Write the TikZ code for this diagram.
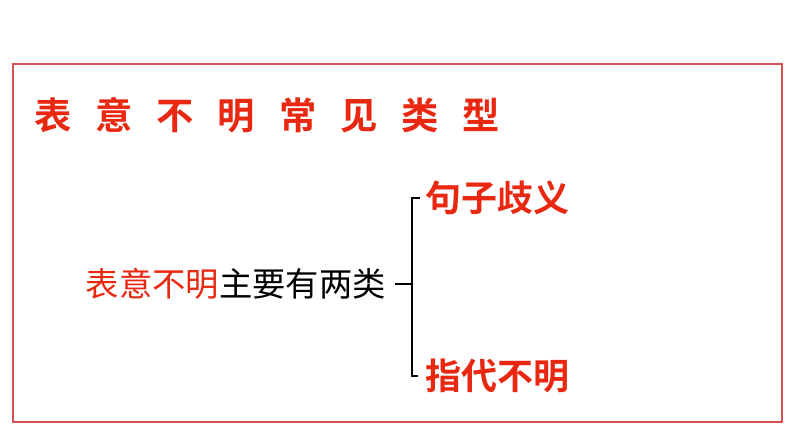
\documentclass[tikz,border=0pt]{standalone}
\usepackage{fontspec}
\newfontfamily\cjk[BoldFont={Noto Sans CJK SC Bold}]{Noto Sans CJK SC}
\definecolor{tred}{RGB}{232,40,16}
\definecolor{boxred}{RGB}{214,80,80}
\begin{document}
\begin{tikzpicture}[x=0.75pt,y=-0.75pt,
  title/.style={font=\cjk\bfseries\fontsize{28}{30}\selectfont,text=tred,inner sep=0,anchor=west},
  body/.style={font=\cjk\fontsize{25}{27}\selectfont,inner sep=0},
  br/.style={line width=1.5pt,black}]
\useasboundingbox (0,0) rectangle (794,447);
\draw[boxred,line width=0.8pt] (13,64) rectangle (782,422);
\node[title] (t) at (34,115) {表\hspace{0.64em}意\hspace{0.64em}不\hspace{0.64em}明\hspace{0.64em}常\hspace{0.64em}见\hspace{0.64em}类\hspace{0.64em}型};
\node[body,anchor=east] (m) at (386,284) {\textcolor{tred}{表意不明}主要有两类};
\node[body,font=\cjk\bfseries\fontsize{27}{29}\selectfont,text=tred,anchor=west] (a) at (425,198) {句子歧义};
\node[body,font=\cjk\bfseries\fontsize{27}{29}\selectfont,text=tred,anchor=west] (b) at (425,376) {指代不明};
\coordinate (s) at (395,284);
\coordinate (j) at (412,284);
\draw[br] (s) -- (j);
\draw[br] (a.west) ++(-5,0) coordinate (a1) -- ++(-8,0) coordinate (a2) |- ([xshift=-5]b.west);
\end{tikzpicture}
\end{document}
